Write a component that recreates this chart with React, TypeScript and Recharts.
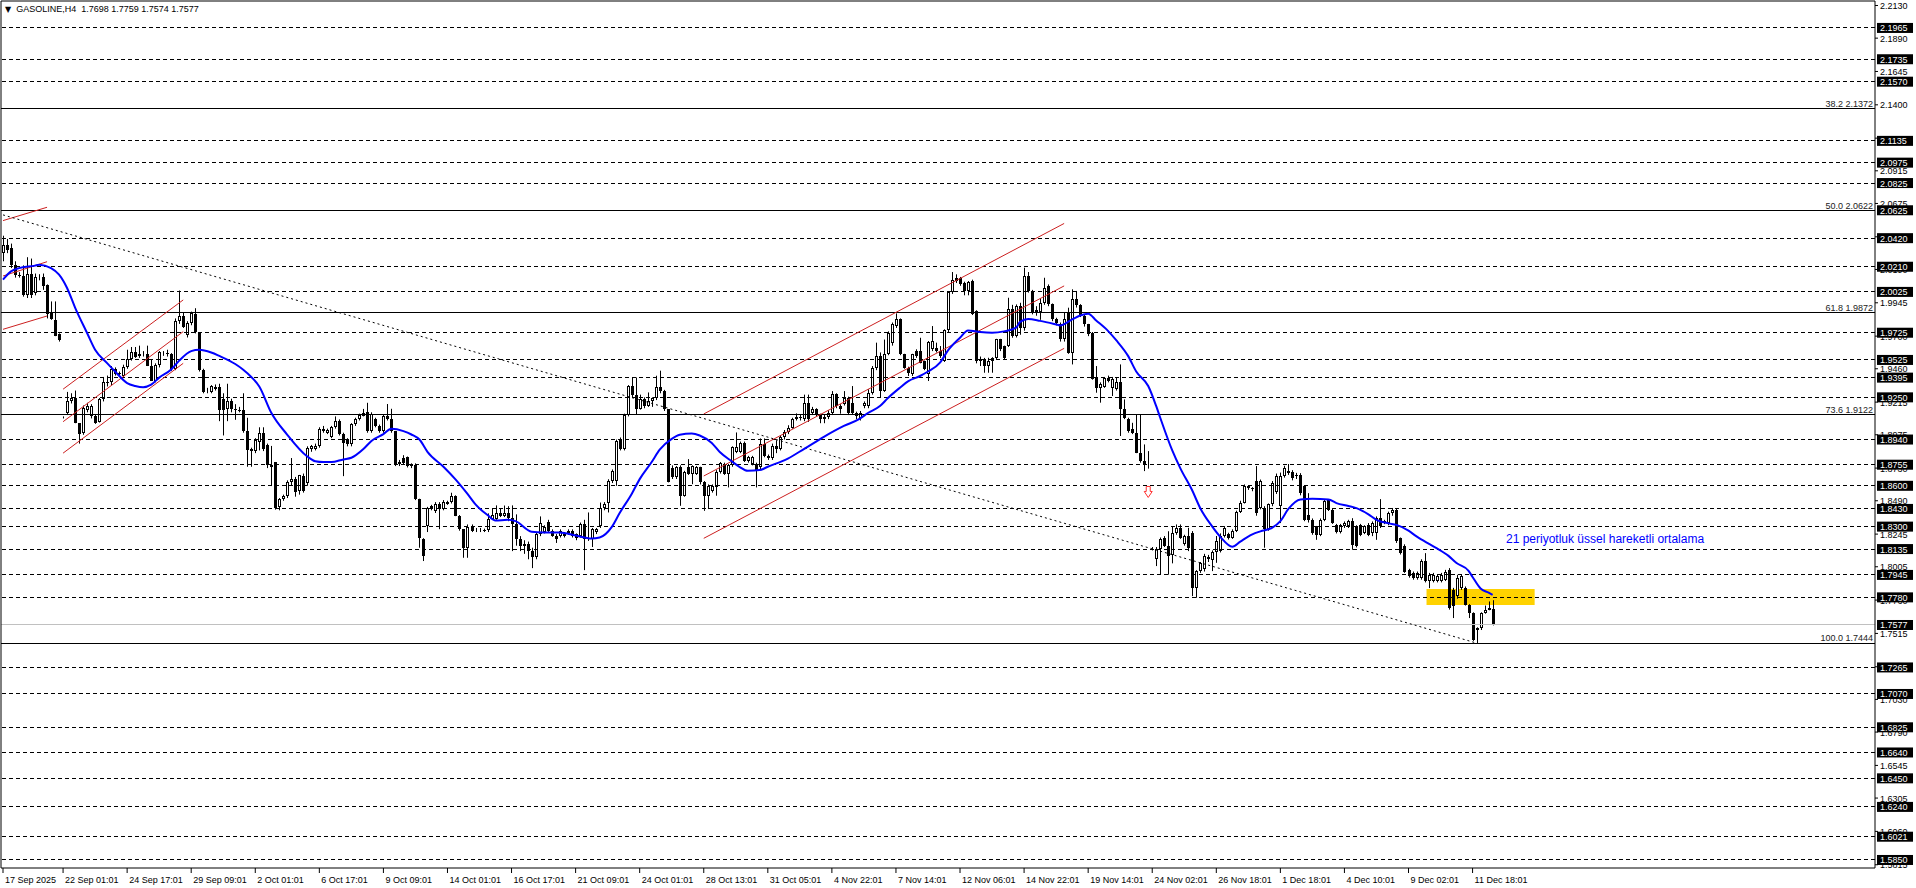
import React from "react";
import {
  Bar,
  ComposedChart,
  Line,
  ReferenceArea,
  ReferenceDot,
  ReferenceLine,
  XAxis,
  YAxis,
} from "recharts";

const FONT = '"Liberation Sans", Arial, sans-serif';

// H4 candles as [open, high, low, close]
const sepBars = [
  [2.0311, 2.0438, 2.025, 2.0372], [2.0372, 2.0414, 2.031, 2.0335], [2.0347, 2.038, 2.02, 2.0225], [2.0225, 2.025, 2.013, 2.015],
  [2.015, 2.017, 2.013, 2.0145], [2.0145, 2.022, 1.999, 2.0], [2.0, 2.028, 1.998, 2.016], [2.016, 2.027, 1.998, 2.0],
  [2.002, 2.016, 2.0, 2.0135], [2.0135, 2.0155, 2.011, 2.014], [2.0135, 2.016, 2.004, 2.0065], [2.0075, 2.008, 1.983, 1.9865],
  [1.987, 1.9955, 1.982, 1.9825], [1.982, 1.9955, 1.97, 1.97], [1.9715, 1.972, 1.966, 1.967], [1.91, 1.911, 1.9095, 1.9105],
  [1.9135, 1.929, 1.912, 1.922], [1.922, 1.928, 1.9205, 1.9245], [1.9245, 1.93, 1.906, 1.906], [1.906, 1.906, 1.891, 1.898],
  [1.8985, 1.919, 1.8975, 1.9175], [1.9155, 1.921, 1.914, 1.9185], [1.911, 1.92, 1.9095, 1.919], [1.911, 1.912, 1.9055, 1.9065],
  [1.907, 1.9245, 1.9065, 1.9235], [1.9235, 1.94, 1.922, 1.936], [1.936, 1.941, 1.933, 1.9355], [1.936, 1.948, 1.934, 1.946],
  [1.946, 1.947, 1.941, 1.942], [1.943, 1.944, 1.94, 1.9425], [1.941, 1.949, 1.94, 1.947], [1.947, 1.96, 1.946, 1.953],
  [1.953, 1.962, 1.952, 1.9585], [1.9585, 1.962, 1.954, 1.955], [1.9555, 1.963, 1.954, 1.957], [1.957, 1.959, 1.955, 1.9575],
  [1.957, 1.963, 1.948, 1.948], [1.948, 1.953, 1.937, 1.937], [1.937, 1.95, 1.936, 1.949], [1.949, 1.959, 1.947, 1.958],
  [1.957, 1.959, 1.9555, 1.9575], [1.9575, 1.96, 1.955, 1.957], [1.957, 1.9575, 1.9445, 1.9455], [1.9455, 1.983, 1.945, 1.981],
  [1.981, 2.0035, 1.979, 1.9845], [1.9845, 1.987, 1.976, 1.977], [1.9705, 1.981, 1.969, 1.9795], [1.9795, 1.988, 1.978, 1.987],
  [1.9865, 1.9905, 1.972, 1.973], [1.973, 1.973, 1.944, 1.945], [1.945, 1.946, 1.928, 1.929], [1.9295, 1.932, 1.928, 1.9305],
  [1.929, 1.934, 1.928, 1.933], [1.9325, 1.9345, 1.93, 1.931], [1.9325, 1.935, 1.9075, 1.916], [1.924, 1.928, 1.897, 1.916],
  [1.9165, 1.935, 1.9075, 1.9225], [1.9225, 1.924, 1.914, 1.9165], [1.9165, 1.92, 1.9085, 1.916], [1.916, 1.918, 1.914, 1.915],
  [1.916, 1.928, 1.899, 1.9], [1.9, 1.91, 1.874, 1.8865], [1.887, 1.888, 1.874, 1.8855], [1.8855, 1.895, 1.884, 1.8935],
];

const earlyOctBars = [
  [1.892, 1.903, 1.886, 1.899], [1.899, 1.903, 1.8855, 1.887], [1.89, 1.891, 1.873, 1.875], [1.875, 1.8893, 1.8598, 1.8735],
  [1.8775, 1.8775, 1.8425, 1.8438], [1.8444, 1.851, 1.842, 1.8505], [1.8505, 1.8535, 1.849, 1.8525], [1.8524, 1.864, 1.851, 1.8627],
  [1.8627, 1.8804, 1.86, 1.8647], [1.8647, 1.8665, 1.852, 1.8553], [1.856, 1.868, 1.8535, 1.8676], [1.867, 1.869, 1.855, 1.856],
  [1.862, 1.889, 1.86, 1.8879], [1.8867, 1.89, 1.885, 1.8891], [1.887, 1.891, 1.886, 1.8896], [1.8891, 1.903, 1.888, 1.9019],
  [1.9019, 1.904, 1.899, 1.9], [1.899, 1.902, 1.898, 1.901], [1.8961, 1.904, 1.895, 1.9032], [1.9032, 1.911, 1.902, 1.9075],
  [1.9075, 1.9088, 1.897, 1.898], [1.898, 1.899, 1.8671, 1.8918], [1.894, 1.895, 1.889, 1.8905], [1.8905, 1.906, 1.889, 1.9051],
  [1.9051, 1.91, 1.904, 1.9093], [1.9093, 1.913, 1.908, 1.912], [1.9115, 1.9165, 1.911, 1.9135], [1.9142, 1.921, 1.899, 1.9003],
  [1.9003, 1.914, 1.899, 1.913], [1.9088, 1.91, 1.903, 1.9039], [1.9039, 1.905, 1.899, 1.9], [1.9, 1.912, 1.899, 1.9112],
  [1.9112, 1.9201, 1.908, 1.909], [1.909, 1.9166, 1.899, 1.9], [1.9, 1.9, 1.8745, 1.8757], [1.8757, 1.879, 1.8745, 1.8774],
  [1.8801, 1.8825, 1.876, 1.877], [1.8809, 1.8815, 1.8735, 1.8745], [1.8757, 1.8765, 1.873, 1.8745], [1.8751, 1.8765, 1.8495, 1.85],
  [1.85, 1.8505, 1.8145, 1.8218], [1.8211, 1.8215, 1.8047, 1.8083], [1.8304, 1.8445, 1.826, 1.8438], [1.8438, 1.846, 1.842, 1.845],
  [1.8414, 1.848, 1.84, 1.8468], [1.8468, 1.848, 1.8281, 1.8426], [1.8426, 1.8495, 1.842, 1.8482], [1.8463, 1.849, 1.846, 1.8482],
  [1.848, 1.8549, 1.847, 1.8524], [1.8524, 1.853, 1.8377, 1.8377], [1.8377, 1.8385, 1.827, 1.8279], [1.8279, 1.828, 1.8071, 1.8145],
  [1.8145, 1.8316, 1.8071, 1.8296], [1.8296, 1.8316, 1.826, 1.8267], [1.8267, 1.829, 1.826, 1.8277], [1.8272, 1.829, 1.826, 1.8277],
  [1.8277, 1.8285, 1.826, 1.8272], [1.8272, 1.8397, 1.826, 1.8358], [1.8358, 1.8431, 1.835, 1.8389], [1.8358, 1.8456, 1.835, 1.8397],
  [1.8397, 1.843, 1.837, 1.838], [1.838, 1.8455, 1.837, 1.8397], [1.8397, 1.845, 1.834, 1.836], [1.836, 1.8456, 1.812, 1.8316],
];

const lateOctBars = [
  [1.8316, 1.839, 1.816, 1.8208], [1.8208, 1.823, 1.812, 1.8155], [1.8155, 1.82, 1.81, 1.8175], [1.8175, 1.819, 1.806, 1.812],
  [1.812, 1.8145, 1.7995, 1.808], [1.808, 1.826, 1.806, 1.8245], [1.8245, 1.8375, 1.823, 1.8326], [1.826, 1.831, 1.825, 1.8294],
  [1.8336, 1.835, 1.826, 1.827], [1.827, 1.828, 1.8225, 1.8233], [1.8233, 1.8245, 1.818, 1.8208], [1.8233, 1.828, 1.822, 1.827],
  [1.8245, 1.826, 1.822, 1.8233], [1.8252, 1.828, 1.824, 1.8267], [1.827, 1.828, 1.822, 1.8233], [1.8245, 1.825, 1.82, 1.822],
  [1.8233, 1.833, 1.822, 1.8318], [1.8318, 1.835, 1.798, 1.8208], [1.8208, 1.8404, 1.8195, 1.8215], [1.8208, 1.829, 1.815, 1.8282],
  [1.8257, 1.829, 1.8245, 1.8282], [1.8306, 1.8477, 1.829, 1.844], [1.844, 1.848, 1.842, 1.8465], [1.8477, 1.8648, 1.8404, 1.8637],
  [1.8637, 1.872, 1.862, 1.871], [1.8637, 1.894, 1.86, 1.893], [1.8943, 1.8955, 1.886, 1.887], [1.887, 1.913, 1.886, 1.912],
  [1.912, 1.934, 1.911, 1.9335], [1.9335, 1.9396, 1.925, 1.9267], [1.9267, 1.9396, 1.9122, 1.9164], [1.9164, 1.927, 1.916, 1.924],
  [1.924, 1.925, 1.917, 1.9188], [1.9188, 1.9286, 1.918, 1.9225], [1.9225, 1.925, 1.918, 1.9242], [1.9242, 1.9409, 1.923, 1.9323],
  [1.9323, 1.9446, 1.928, 1.9298], [1.9298, 1.9305, 1.915, 1.9164], [1.9164, 1.9164, 1.8625, 1.863], [1.8728, 1.875, 1.865, 1.8661],
  [1.8661, 1.8745, 1.865, 1.8735], [1.8735, 1.875, 1.8453, 1.8527], [1.8527, 1.871, 1.852, 1.8698], [1.8735, 1.8796, 1.868, 1.8686],
  [1.8686, 1.875, 1.8612, 1.8742], [1.8686, 1.8745, 1.868, 1.8735], [1.8735, 1.874, 1.861, 1.8625], [1.8625, 1.8635, 1.8416, 1.8527],
  [1.8527, 1.861, 1.8429, 1.86], [1.856, 1.861, 1.855, 1.86], [1.8588, 1.8715, 1.8527, 1.8703], [1.8703, 1.8775, 1.869, 1.8767],
  [1.876, 1.877, 1.868, 1.8686], [1.8686, 1.876, 1.8588, 1.8752], [1.8752, 1.889, 1.874, 1.8882], [1.8845, 1.8992, 1.884, 1.8882],
  [1.885, 1.8925, 1.884, 1.8918], [1.8918, 1.8925, 1.8775, 1.8784], [1.8784, 1.882, 1.877, 1.8808], [1.8759, 1.882, 1.875, 1.8808],
  [1.8759, 1.877, 1.8588, 1.871], [1.8735, 1.8948, 1.872, 1.8906], [1.8906, 1.8948, 1.881, 1.8821], [1.8821, 1.883, 1.879, 1.8805],
];

const earlyNovBars = [
  [1.8805, 1.891, 1.879, 1.8895], [1.8895, 1.8935, 1.884, 1.887], [1.887, 1.897, 1.886, 1.8955], [1.8955, 1.901, 1.894, 1.8995],
  [1.8995, 1.9045, 1.898, 1.9025], [1.9025, 1.91, 1.902, 1.909], [1.909, 1.9132, 1.908, 1.9105], [1.9105, 1.912, 1.908, 1.9098],
  [1.9088, 1.927, 1.9075, 1.921], [1.921, 1.927, 1.907, 1.9088], [1.9137, 1.918, 1.912, 1.9162], [1.9162, 1.917, 1.911, 1.9125],
  [1.9125, 1.913, 1.906, 1.9088], [1.9088, 1.912, 1.906, 1.9105], [1.9105, 1.9155, 1.909, 1.9137], [1.9137, 1.9296, 1.912, 1.9272],
  [1.9272, 1.928, 1.917, 1.9186], [1.9186, 1.92, 1.913, 1.9162], [1.9198, 1.9296, 1.919, 1.9247], [1.9247, 1.9255, 1.912, 1.9137],
  [1.9211, 1.9333, 1.9125, 1.9137], [1.9137, 1.9145, 1.909, 1.9115], [1.91, 1.915, 1.908, 1.9137], [1.9186, 1.922, 1.917, 1.921],
  [1.9186, 1.931, 1.917, 1.9284], [1.9284, 1.948, 1.927, 1.9465], [1.9465, 1.9652, 1.945, 1.9555], [1.9555, 1.958, 1.9245, 1.93],
  [1.93, 1.9675, 1.929, 1.957], [1.957, 1.9735, 1.956, 1.9725], [1.965, 1.98, 1.963, 1.9786], [1.9774, 1.9867, 1.976, 1.9823],
  [1.9823, 1.983, 1.956, 1.9566], [1.9566, 1.957, 1.946, 1.9468], [1.9468, 1.9475, 1.9407, 1.9431], [1.9419, 1.957, 1.9407, 1.9566],
  [1.959, 1.9603, 1.954, 1.9553], [1.959, 1.9688, 1.95, 1.9505], [1.9517, 1.952, 1.945, 1.9456], [1.9419, 1.9664, 1.937, 1.9659],
  [1.9603, 1.9774, 1.959, 1.9664], [1.9615, 1.9652, 1.958, 1.959], [1.959, 1.9627, 1.954, 1.9554], [1.9517, 1.975, 1.951, 1.9745],
  [1.9745, 2.003, 1.973, 2.0024], [2.0024, 2.0171, 2.001, 2.0112], [2.0129, 2.0154, 2.009, 2.0105], [2.0129, 2.0135, 2.007, 2.008],
  [2.0093, 2.01, 2.0, 2.0031], [2.0031, 2.0105, 2.0, 2.0097], [2.0105, 2.0115, 1.9855, 1.986], [1.9884, 1.989, 1.95, 1.9517],
  [1.9517, 1.955, 1.948, 1.9534], [1.9529, 1.954, 1.9431, 1.948], [1.948, 1.9541, 1.9431, 1.9517], [1.9517, 1.9545, 1.9431, 1.9541],
  [1.9541, 1.968, 1.953, 1.9676], [1.9676, 1.968, 1.959, 1.9603], [1.9627, 1.963, 1.953, 1.9541], [1.9627, 1.9982, 1.962, 1.9897],
  [1.9897, 1.993, 1.9688, 1.97], [1.97, 1.9933, 1.969, 1.9921], [1.9921, 1.9945, 1.971, 1.976], [1.976, 2.0203, 1.974, 2.0142],
];

const lateNovBars = [
  [2.0142, 2.0171, 2.002, 2.0031], [2.0031, 2.004, 1.986, 1.9877], [1.9892, 1.992, 1.985, 1.9877], [1.9877, 1.998, 1.982, 1.9946],
  [1.9946, 2.0129, 1.993, 2.0056], [2.0068, 2.008, 1.992, 1.9933], [1.9933, 1.994, 1.981, 1.9823], [1.9823, 1.9835, 1.978, 1.98],
  [1.9786, 1.98, 1.966, 1.9676], [1.9676, 1.9872, 1.966, 1.9828], [1.9872, 1.9909, 1.957, 1.9578], [1.9578, 2.0044, 1.9492, 1.9975],
  [1.997, 2.0032, 1.991, 1.9926], [1.9926, 1.9935, 1.984, 1.9848], [1.9848, 1.9855, 1.977, 1.9786], [1.9786, 1.979, 1.97, 1.9713],
  [1.9725, 1.973, 1.938, 1.9387], [1.9394, 1.948, 1.9284, 1.932], [1.9316, 1.936, 1.9211, 1.9345], [1.9328, 1.94, 1.932, 1.9394],
  [1.9394, 1.941, 1.936, 1.937], [1.932, 1.94, 1.926, 1.9382], [1.9308, 1.9394, 1.93, 1.9362], [1.9362, 1.9492, 1.8966, 1.9161],
  [1.9161, 1.9235, 1.909, 1.91], [1.9093, 1.91, 1.899, 1.9002], [1.902, 1.9063, 1.898, 1.899], [1.899, 1.9125, 1.884, 1.8843],
  [1.8843, 1.9125, 1.877, 1.8782], [1.8782, 1.8904, 1.8708, 1.8757], [1.8757, 1.8855, 1.8726, 1.876], [1.8138, 1.815, 1.8125, 1.814],
  [1.8059, 1.815, 1.801, 1.8138], [1.8138, 1.822, 1.7945, 1.8211], [1.8218, 1.823, 1.815, 1.8157], [1.8157, 1.8266, 1.7947, 1.8083],
  [1.8088, 1.8304, 1.803, 1.825], [1.825, 1.8316, 1.824, 1.8291], [1.8291, 1.8316, 1.821, 1.8218], [1.8169, 1.824, 1.816, 1.823],
  [1.823, 1.8291, 1.812, 1.8145], [1.8255, 1.8267, 1.7789, 1.7851], [1.7851, 1.798, 1.7777, 1.7973], [1.7973, 1.804, 1.796, 1.8034],
  [1.7985, 1.81, 1.797, 1.8083], [1.8059, 1.8092, 1.804, 1.808], [1.8054, 1.8125, 1.7973, 1.8113], [1.8113, 1.8231, 1.8034, 1.8194],
  [1.8121, 1.825, 1.811, 1.8231], [1.8231, 1.8304, 1.822, 1.8292], [1.8243, 1.8255, 1.8205, 1.8218], [1.8218, 1.828, 1.821, 1.8267],
  [1.8267, 1.8417, 1.826, 1.8407], [1.8407, 1.849, 1.84, 1.8476], [1.8476, 1.861, 1.847, 1.8598], [1.8598, 1.86, 1.857, 1.8586],
  [1.8586, 1.859, 1.856, 1.8575], [1.8635, 1.8745, 1.838, 1.8403], [1.8439, 1.8646, 1.8427, 1.8635], [1.8439, 1.845, 1.8145, 1.8279],
  [1.8279, 1.847, 1.827, 1.8463], [1.8463, 1.8635, 1.845, 1.8622], [1.8555, 1.869, 1.854, 1.8672], [1.845, 1.8697, 1.8326, 1.8672],
];

const decBars = [
  [1.8669, 1.8747, 1.866, 1.873], [1.8706, 1.876, 1.868, 1.8693], [1.8705, 1.8715, 1.864, 1.8656], [1.8681, 1.8695, 1.865, 1.8669],
  [1.8681, 1.8693, 1.853, 1.8546], [1.8595, 1.86, 1.834, 1.835], [1.8387, 1.8546, 1.833, 1.835], [1.835, 1.836, 1.824, 1.8252],
  [1.8301, 1.8305, 1.8203, 1.824], [1.824, 1.836, 1.823, 1.835], [1.835, 1.8497, 1.834, 1.8485], [1.8497, 1.8502, 1.8415, 1.8424],
  [1.8424, 1.8432, 1.832, 1.8326], [1.8313, 1.832, 1.825, 1.8264], [1.8264, 1.832, 1.825, 1.8313], [1.8301, 1.8338, 1.829, 1.8326],
  [1.8301, 1.835, 1.829, 1.8338], [1.8338, 1.8362, 1.813, 1.8166], [1.8301, 1.831, 1.8147, 1.8154], [1.8313, 1.832, 1.823, 1.824],
  [1.8252, 1.831, 1.8245, 1.8301], [1.8313, 1.8326, 1.823, 1.824], [1.8252, 1.8338, 1.823, 1.8326], [1.8252, 1.8375, 1.8203, 1.8362],
  [1.8362, 1.8502, 1.829, 1.8301], [1.8338, 1.835, 1.8318, 1.8326], [1.8326, 1.841, 1.831, 1.8399], [1.8399, 1.8437, 1.838, 1.8424],
  [1.8424, 1.8436, 1.818, 1.8191], [1.8215, 1.822, 1.8095, 1.8105], [1.8159, 1.817, 1.796, 1.797], [1.7982, 1.799, 1.7925, 1.7934],
  [1.7958, 1.797, 1.791, 1.7921], [1.7921, 1.797, 1.791, 1.7958], [1.7921, 1.806, 1.791, 1.8044], [1.8044, 1.8105, 1.789, 1.7897],
  [1.7897, 1.796, 1.7848, 1.7946], [1.7897, 1.796, 1.789, 1.7946], [1.7897, 1.795, 1.789, 1.7934], [1.7897, 1.796, 1.789, 1.7946],
  [1.7909, 1.7982, 1.79, 1.797], [1.7982, 1.7995, 1.769, 1.7701], [1.7836, 1.785, 1.7628, 1.7713], [1.7787, 1.7946, 1.777, 1.7921],
  [1.7848, 1.7946, 1.7835, 1.7934], [1.7848, 1.786, 1.772, 1.7725], [1.7725, 1.773, 1.7628, 1.7664], [1.7664, 1.767, 1.746, 1.7468],
  [1.7542, 1.756, 1.7444, 1.7554], [1.7554, 1.767, 1.754, 1.7664], [1.7664, 1.772, 1.766, 1.7689], [1.7689, 1.775, 1.7685, 1.7701],
  [1.7698, 1.7759, 1.7574, 1.7577],
];

// 21-period EMA at these bars
const emaBars = [
  0, 2, 4, 8, 9, 12, 14, 16, 18, 21, 23, 26, 28, 31, 33, 35, 37, 39, 42, 44, 47, 49, 52, 54, 58, 60, 62, 64, 67, 71,
  76, 78, 80, 82, 85, 87, 90, 92, 95, 97, 100, 102, 104, 106, 110, 113, 116, 118, 121, 123, 126, 128, 132, 135, 139,
  143, 147, 149, 152, 154, 157, 159, 162, 164, 167, 169, 172, 174, 177, 179, 182, 184, 186, 189, 191, 196, 200, 205,
  210, 214, 216, 219, 221, 224, 226, 229, 231, 234, 236, 239, 241, 244, 247, 250, 253, 254, 256, 259, 263, 264, 267,
  269, 271, 273, 276, 278, 281, 283, 286, 288, 289, 292, 294, 297, 299, 302, 304, 307, 309, 312, 314, 317, 319, 321,
  324, 327, 331, 333, 336, 338, 341, 343, 346, 348, 351, 353, 356, 358, 361, 363, 366, 367, 369, 371, 372,
];
const emaValues = [
  2.0115, 2.0176, 2.02, 2.0218, 2.0225, 2.02, 2.0152, 2.0054, 1.991, 1.9723, 1.96, 1.9502, 1.944, 1.9355, 1.9334,
  1.9324, 1.9343, 1.9395, 1.9455, 1.952, 1.959, 1.96, 1.958, 1.9555, 1.9495, 1.9453, 1.94, 1.933, 1.9137, 1.8975,
  1.8815, 1.878, 1.8774, 1.8774, 1.8794, 1.8806, 1.887, 1.893, 1.898, 1.9019, 1.9002, 1.8977, 1.894, 1.885, 1.874,
  1.8647, 1.854, 1.8463, 1.8385, 1.8345, 1.835, 1.834, 1.8262, 1.8257, 1.8257, 1.8235, 1.8213, 1.822, 1.8296, 1.84,
  1.854, 1.8649, 1.8775, 1.8865, 1.8945, 1.8975, 1.8985, 1.897, 1.8915, 1.8848, 1.878, 1.8738, 1.871, 1.8716, 1.874,
  1.88, 1.887, 1.896, 1.904, 1.9093, 1.9135, 1.9186, 1.9245, 1.9321, 1.9368, 1.9407, 1.944, 1.9505, 1.9595, 1.9688,
  1.9742, 1.973, 1.9725, 1.9735, 1.9762, 1.9805, 1.9826, 1.9812, 1.9786, 1.9779, 1.9823, 1.9852, 1.9865, 1.9815,
  1.9737, 1.967, 1.9553, 1.944, 1.9333, 1.9185, 1.91, 1.886, 1.873, 1.8565, 1.8435, 1.83, 1.8225, 1.8152, 1.819,
  1.8243, 1.8265, 1.8292, 1.834, 1.843, 1.85, 1.8504, 1.85, 1.8473, 1.8452, 1.8436, 1.839, 1.835, 1.8324, 1.8313,
  1.827, 1.8228, 1.8175, 1.8142, 1.8085, 1.8032, 1.7975, 1.793, 1.7845, 1.7815, 1.7799,
];

const timeLabels = [
  "17 Sep 2025", "22 Sep 01:01", "24 Sep 17:01", "29 Sep 09:01", "2 Oct 01:01", "6 Oct 17:01", "9 Oct 09:01",
  "14 Oct 01:01", "16 Oct 17:01", "21 Oct 09:01", "24 Oct 01:01", "28 Oct 13:01", "31 Oct 05:01", "4 Nov 22:01",
  "7 Nov 14:01", "12 Nov 06:01", "14 Nov 22:01", "19 Nov 14:01", "24 Nov 02:01", "26 Nov 18:01", "1 Dec 18:01",
  "4 Dec 10:01", "9 Dec 02:01", "11 Dec 18:01",
];
const labelBars = [0, 15, 31, 47, 63, 79, 95, 111, 127, 143, 159, 175, 191, 207, 223, 239, 255, 271, 287, 303, 319, 335, 351, 367];

const scaleTicks = [
  2.213, 2.189, 2.1645, 2.14, 2.1155, 2.0915, 2.0675, 2.043, 2.019, 1.9945, 1.97, 1.946, 1.9215, 1.8975, 1.873, 1.849,
  1.8245, 1.8005, 1.776, 1.7515, 1.727, 1.703, 1.679, 1.6545, 1.6305, 1.606, 1.5815,
];
const dashedLevels = [
  2.1965, 2.1735, 2.157, 2.1135, 2.0975, 2.0825, 2.0625, 2.042, 2.021, 2.0025, 1.9725, 1.9525, 1.9395, 1.925, 1.894,
  1.8755, 1.86, 1.843, 1.83, 1.8135, 1.7945, 1.778, 1.7265, 1.707, 1.6825, 1.664, 1.645, 1.624, 1.6021, 1.585,
];
const fibLevels = [2.1372, 2.0622, 1.9872, 1.9122, 1.7444];
const fibNames = ["38.2", "50.0", "61.8", "73.6", "100.0"];
const lastPrice = 1.7577;

// [bar1, price1, bar2, price2]
const channelSegments = [
  [0, 2.0549, 11, 2.0647], [0, 2.0142, 11, 2.0247], [0, 1.975, 11, 1.9848],
  [15, 1.931, 45, 1.9966], [15, 1.9071, 45, 1.9733], [15, 1.884, 45, 1.95],
  [175, 1.9128, 265, 2.0528], [175, 1.8672, 265, 2.0069], [175, 1.8214, 265, 1.961],
];
const trendSegment = [0, 2.0591, 368, 1.7444];
const zoneBars = [356, 382];
const zonePrices = [1.7724, 1.7842];
const arrowPoint = [286, 1.8551];

const Y_MIN = 1.5791;
const Y_MAX = 2.2163;
const SLOTS = 468;

type Row = { i: number; o?: number; h?: number; l?: number; c?: number; ema?: number };

const candles = [...sepBars, ...earlyOctBars, ...lateOctBars, ...earlyNovBars, ...lateNovBars, ...decBars];
const rows: Row[] = Array.from({ length: SLOTS }, (_, i) => {
  const r: Row = { i };
  const k = candles[i];
  if (k) {
    r.o = k[0];
    r.h = k[1];
    r.l = k[2];
    r.c = k[3];
  }
  const e = emaBars.indexOf(i);
  if (e >= 0) r.ema = emaValues[e];
  return r;
});

function Candle(props: any) {
  const { payload, x, width } = props;
  let { y, height } = props;
  if (!payload || payload.o == null || height == null) return null;
  if (height < 0) {
    y += height;
    height = -height;
  }
  const { o, h, l, c } = payload;
  const k = h > l ? height / (h - l) : 0;
  const cx = Math.round(x + width / 2);
  const top = Math.round(y + (h - Math.max(o, c)) * k);
  const bot = Math.round(y + (h - Math.min(o, c)) * k);
  const up = c >= o;
  return (
    <g>
      <line x1={cx + 0.5} x2={cx + 0.5} y1={y} y2={y + height} stroke="#000" strokeWidth={1} />
      {up ? (
        <rect x={cx - 0.5} y={top + 0.5} width={2} height={Math.max(bot - top - 1, 0)} fill="#fff" stroke="#000" strokeWidth={1} />
      ) : (
        <rect x={cx - 1} y={top} width={3} height={Math.max(bot - top, 1)} fill="#000" />
      )}
    </g>
  );
}

function TimeTick(props: any) {
  const { x, y, payload } = props;
  const idx = labelBars.indexOf(payload.value);
  if (idx < 0) return <g />;
  return (
    <g>
      <line x1={x} x2={x} y1={y} y2={y + 5} stroke="#000" />
      <text x={x + 2} y={y + 15} fontSize={9} fontFamily={FONT} fill="#000">
        {timeLabels[idx]}
      </text>
    </g>
  );
}

function PriceTick(props: any) {
  const { x, y, payload } = props;
  const v = payload.value as number;
  const boxed = dashedLevels.includes(v) || v === lastPrice;
  if (boxed) {
    return (
      <g>
        <rect x={x + 2} y={y - 5} width={36} height={10} fill="#000" />
        <text x={x + 5} y={y + 3.5} fontSize={9} fontFamily={FONT} fill="#fff">
          {v.toFixed(4)}
        </text>
      </g>
    );
  }
  return (
    <g>
      <line x1={x} x2={x + 3} y1={y} y2={y} stroke="#000" />
      <text x={x + 5} y={y + 3.5} fontSize={9} fontFamily={FONT} fill="#000">
        {v.toFixed(4)}
      </text>
    </g>
  );
}

function FibLabel(props: any) {
  const vb = props.viewBox;
  if (!vb) return null;
  return (
    <text x={vb.x + vb.width - 2} y={vb.y - 2} textAnchor="end" fontSize={9} fontFamily={FONT} fill="#222">
      {props.text}
    </text>
  );
}

function DownArrow(props: any) {
  const { cx, cy } = props;
  if (cx == null || cy == null) return null;
  const d = `M${cx - 2} ${cy - 6} L${cx + 2} ${cy - 6} L${cx + 2} ${cy - 1} L${cx + 4} ${cy - 1} L${cx} ${cy + 5} L${cx - 4} ${cy - 1} L${cx - 2} ${cy - 1} Z`;
  return <path d={d} fill="#fff" stroke="#ff3030" strokeWidth={1} />;
}

export default function App() {
  return (
    <div style={{ position: "absolute", left: 0, top: 0, width: 1916, height: 888, background: "#fff" }}>
      <ComposedChart
        width={1916}
        height={888}
        data={rows}
        margin={{ top: 1, right: 0, bottom: 0, left: 0 }}
        barCategoryGap={0}
        barGap={0}
      >
        <XAxis
          dataKey="i"
          type="category"
          interval={0}
          tick={<TimeTick />}
          tickLine={false}
          tickSize={0}
          tickMargin={0}
          height={20}
          axisLine={{ stroke: "#000" }}
        />
        <YAxis
          orientation="right"
          type="number"
          domain={[Y_MIN, Y_MAX]}
          allowDataOverflow
          ticks={[...scaleTicks, ...dashedLevels, lastPrice]}
          interval={0}
          tick={<PriceTick />}
          tickLine={false}
          tickSize={0}
          tickMargin={0}
          width={41}
          axisLine={{ stroke: "#000" }}
        />
        <YAxis
          yAxisId="frame"
          orientation="left"
          type="number"
          domain={[0, 1]}
          width={1}
          tick={false}
          tickLine={false}
          axisLine={{ stroke: "#000" }}
        />
        <ReferenceArea
          x1={zoneBars[0]}
          x2={zoneBars[1]}
          y1={zonePrices[0]}
          y2={zonePrices[1]}
          fill="#ffd200"
          fillOpacity={1}
          stroke="none"
          ifOverflow="visible"
        />
        <ReferenceLine y={Y_MAX} stroke="#000" />
        {dashedLevels.map((v) => (
          <ReferenceLine key={`d${v}`} y={v} stroke="#000" strokeDasharray="4 3" shapeRendering="crispEdges" />
        ))}
        {fibLevels.map((v, n) => (
          <ReferenceLine
            key={`f${v}`}
            y={v}
            stroke="#000"
            shapeRendering="crispEdges"
            label={<FibLabel text={`${fibNames[n]} ${v.toFixed(4)}`} />}
          />
        ))}
        <ReferenceLine y={lastPrice} stroke="#c0c0c0" shapeRendering="crispEdges" />
        <Bar
          dataKey={(d: Row) => (d.o == null ? null : [d.l, d.h])}
          shape={<Candle />}
          isAnimationActive={false}
        />
        {channelSegments.map((s, n) => (
          <ReferenceLine
            key={`c${n}`}
            segment={[
              { x: s[0], y: s[1] },
              { x: s[2], y: s[3] },
            ]}
            stroke="#cc2020"
            strokeWidth={1}
          />
        ))}
        <ReferenceLine
          segment={[
            { x: trendSegment[0], y: trendSegment[1] },
            { x: trendSegment[2], y: trendSegment[3] },
          ]}
          stroke="#000"
          strokeDasharray="2 3"
        />
        <Line
          dataKey="ema"
          type="monotone"
          stroke="#0000ff"
          strokeWidth={2}
          dot={false}
          connectNulls
          isAnimationActive={false}
        />
        <ReferenceDot x={arrowPoint[0]} y={arrowPoint[1]} shape={<DownArrow />} ifOverflow="visible" />
      </ComposedChart>
      <div
        style={{
          position: "absolute",
          left: 5,
          top: 3,
          fontFamily: FONT,
          fontSize: 9,
          color: "#000",
          whiteSpace: "pre",
          lineHeight: "12px",
        }}
      >
        <span style={{ fontSize: 8, fontFamily: '"DejaVu Sans", sans-serif' }}>▼</span>
        {"  GASOLINE,H4  1.7698 1.7759 1.7574 1.7577"}
      </div>
      <div
        style={{
          position: "absolute",
          left: 1506,
          top: 532,
          fontFamily: FONT,
          fontSize: 12,
          color: "#0000ff",
          whiteSpace: "nowrap",
          lineHeight: "15px",
        }}
      >
        21 periyotluk üssel hareketli ortalama
      </div>
    </div>
  );
}
